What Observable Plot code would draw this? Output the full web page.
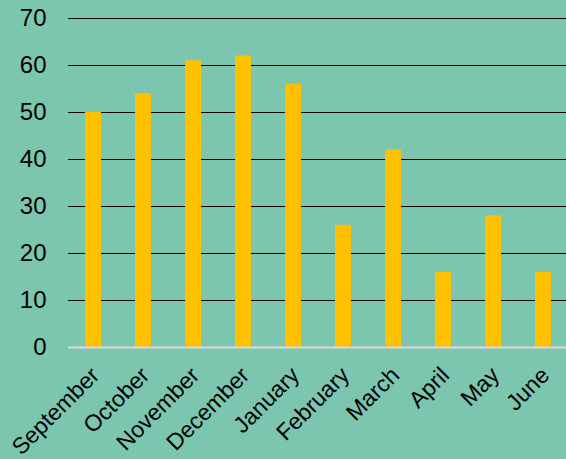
<!DOCTYPE html>
<html>
<head>
<meta charset="utf-8">
<script src="https://cdn.jsdelivr.net/npm/d3@7"></script>
<script src="https://cdn.jsdelivr.net/npm/@observablehq/plot@0.6"></script>
<style>
  html, body { margin: 0; padding: 0; background: #7cc6b0; }
  #chart svg { display: block; }
</style>
</head>
<body>
<div id="chart"></div>
<script>
// Monthly counts, September through June
const months = ["September", "October", "November", "December", "January", "February", "March", "April", "May", "June"];
const counts = [50, 54, 61, 62, 56, 26, 42, 16, 28, 16];
const yTicks = [0, 10, 20, 30, 40, 50, 60, 70];

const data = months.map((m, i) => ({month: m, count: counts[i]}));

const chart = Plot.plot({
  width: 566,
  height: 459,
  marginTop: 18,
  marginBottom: 112,
  marginLeft: 68,
  marginRight: 0,
  style: {
    background: "#7cc6b0",
    fontFamily: "'Liberation Sans', Arial, sans-serif",
    fontSize: "24px",
    color: "#000"
  },
  x: {domain: months, range: [68, 568], paddingInner: 0.68, paddingOuter: 0.34, align: 0.5},
  y: {domain: [0, 70]},
  marks: [
    Plot.ruleY(yTicks.filter(d => d > 0), {stroke: "#000", strokeWidth: 1.2}),
    Plot.barY(data, {x: "month", y: "count", fill: "#ffc000"}),
    Plot.ruleY([0], {stroke: "#d9d9d9", strokeWidth: 2}),
    Plot.axisY({ticks: yTicks, tickSize: 0, tickPadding: 22, label: null, fontSize: 24}),
    Plot.axisX({tickSize: 0, tickRotate: -45, tickPadding: 12, dx: 2, dy: 12, label: null, fontSize: 23})
  ]
});

document.getElementById("chart").appendChild(chart);
</script>
</body>
</html>
